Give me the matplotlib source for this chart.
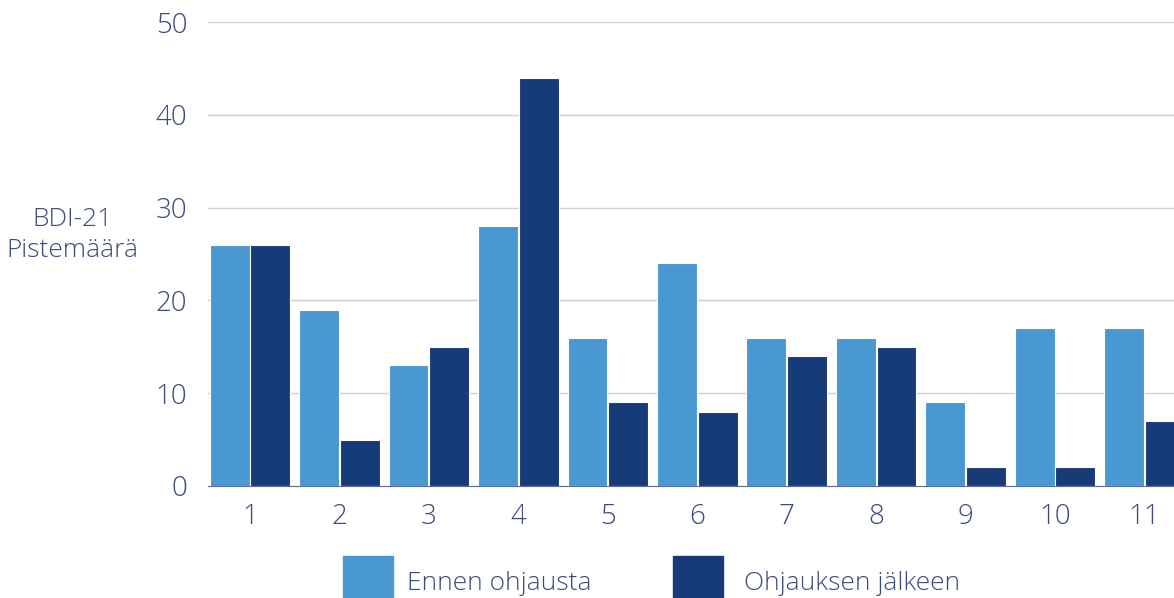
import numpy as np
import matplotlib.pyplot as plt
from matplotlib.patches import Rectangle

# data
groups = ["1", "2", "3", "4", "5", "6", "7", "8", "9", "10", "11"]
ennen = [26, 19, 13, 28, 16, 24, 16, 16, 9, 17, 17]
jalkeen = [26, 5, 15, 44, 9, 8, 14, 15, 2, 2, 7]
series_names = ["Ennen ohjausta", "Ohjauksen jälkeen"]
yticks = [0, 10, 20, 30, 40, 50]

light = "#4a98d2"
dark = "#173a78"
txt = "#3b4a7f"

plt.rcParams['font.family'] = ['Open Sans', 'DejaVu Sans']

fig = plt.figure(figsize=(11.74, 5.98), dpi=100)
ax = fig.add_axes([208/1174, 112/598, 1 - 208/1174, 464/598])

x = np.arange(len(groups))
w = 0.445
ax.bar(x - w/2 - 0.005, ennen, w, color=light, edgecolor="white", linewidth=0.8, zorder=3)
ax.bar(x + w/2 + 0.005, jalkeen, w, color=dark, edgecolor="white", linewidth=0.8, zorder=3)

ax.set_xlim(-0.47, 10.33)
ax.set_ylim(0, 50)
ax.set_yticks(yticks)
ax.set_xticks(x)
ax.set_xticklabels(groups)
ax.grid(axis="y", color="#c9d1dd", linewidth=1, zorder=0)
for s in ["top", "right", "left"]:
    ax.spines[s].set_visible(False)
ax.spines["bottom"].set_color("#5d6c99")
ax.spines["bottom"].set_zorder(4)
ax.tick_params(length=0, labelsize=20, labelcolor=txt)
ax.tick_params(axis="y", pad=15)
ax.tick_params(axis="x", pad=12)
for lab in ax.get_xticklabels() + ax.get_yticklabels():
    lab.set_fontweight("light")

fig.text(72/1174, 1 - 235/598, "BDI-21\nPistemäärä", ha="center", va="center",
         fontsize=19, color=txt, fontweight="light", linespacing=1.35)

# legend drawn by hand
sq_x = [343, 673]
txt_x = [407, 744]
for i, (name, col) in enumerate(zip(series_names, [light, dark])):
    fig.patches.append(Rectangle((sq_x[i]/1174, 0), 50/1174, 42/598, transform=fig.transFigure,
                                 color=col, zorder=5))
    fig.text(txt_x[i]/1174, 1 - 590/598, name, ha="left", va="baseline",
             fontsize=19, color=txt, fontweight="light")

fig.savefig("out.png", dpi=100)
